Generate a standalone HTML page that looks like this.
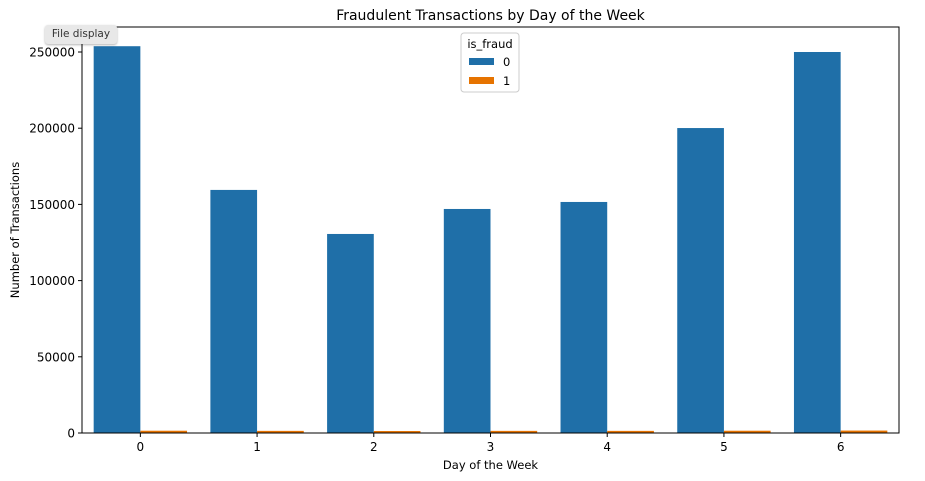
<!DOCTYPE html>
<html><head><meta charset="utf-8"><style>
body{margin:0;background:#fff;width:925px;height:481px;overflow:hidden;font-family:"DejaVu Sans","Liberation Sans",sans-serif;}
#tip{position:absolute;left:45px;top:25px;width:72px;height:19px;background:#e8e8e8;border-radius:3px;font-size:10.5px;line-height:19px;text-align:center;color:#333;box-shadow:0 1px 2px rgba(0,0,0,.3);}
</style></head><body>
<svg id="chart" width="925" height="481" style="position:absolute;left:0;top:0;font-family:'DejaVu Sans','Liberation Sans',sans-serif"></svg>
<div id="tip">File display</div>
<script>
const categories=["0","1","2","3","4","5","6"];
const notFraud=[253800,159500,130600,147000,151600,200100,250000];
const fraud=[1500,1400,1300,1400,1400,1500,1600];
const yTicks=[0,50000,100000,150000,200000,250000];
const L=82,R=899,T=27,B=433,yPer=76.2/50000;
const ns="http://www.w3.org/2000/svg",svg=document.getElementById('chart');
function y(v){return B-v*yPer;}
const step=(R-L)/categories.length;
function x(i){return L+step*(i+0.5);}
function el(t,a,txt){const e=document.createElementNS(ns,t);for(const k in a)e.setAttribute(k,a[k]);if(txt!==undefined)e.textContent=txt;svg.appendChild(e);return e;}
const bw=step*0.4;
categories.forEach((c,i)=>{
 let b=el('rect',{x:x(i)-bw,y:y(notFraud[i]),width:bw,height:B-y(notFraud[i]),fill:'#1f6fa8'});
 
 
 let o=el('rect',{x:x(i),y:y(fraud[i]),width:bw,height:B-y(fraud[i]),fill:'#e67300'});
 
 
 el('line',{x1:x(i),x2:x(i),y1:B,y2:B+4,stroke:'#000'});
 let t=el('text',{x:x(i),y:B+18,'font-size':12,'text-anchor':'middle'},c);
 
 
});
yTicks.forEach(v=>{
 el('line',{x1:L-4,x2:L,y1:y(v),y2:y(v),stroke:'#000'});
 let t=el('text',{x:L-7,y:y(v)+4.5,'font-size':12,'text-anchor':'end'},String(v));
 
 
});
el('rect',{x:L,y:T,width:R-L,height:B-T,fill:'none',stroke:'#000','stroke-width':1});
let ti=el('text',{x:(L+R)/2,y:20,'font-size':14,'text-anchor':'middle'},'Fraudulent Transactions by Day of the Week');

let xt=el('text',{x:(L+R)/2,y:469,'font-size':11.5,'text-anchor':'middle'},'Day of the Week');

let yt=el('text',{x:0,y:0,'font-size':11.5,'text-anchor':'middle',transform:'translate(19,230) rotate(-90)'},'Number of Transactions');

let lg=el('rect',{x:461,y:33,width:58,height:59,fill:'#fff',stroke:'#ccc',rx:3});

el('text',{x:490,y:48,'font-size':11.5,'text-anchor':'middle'},'is_fraud');
el('rect',{x:469,y:58,width:25,height:7,fill:'#1f6fa8'});
el('text',{x:503,y:66,'font-size':11.5},'0');
el('rect',{x:469,y:77,width:25,height:7,fill:'#e67300'});
el('text',{x:503,y:85,'font-size':11.5},'1');
</script>
</body></html>
